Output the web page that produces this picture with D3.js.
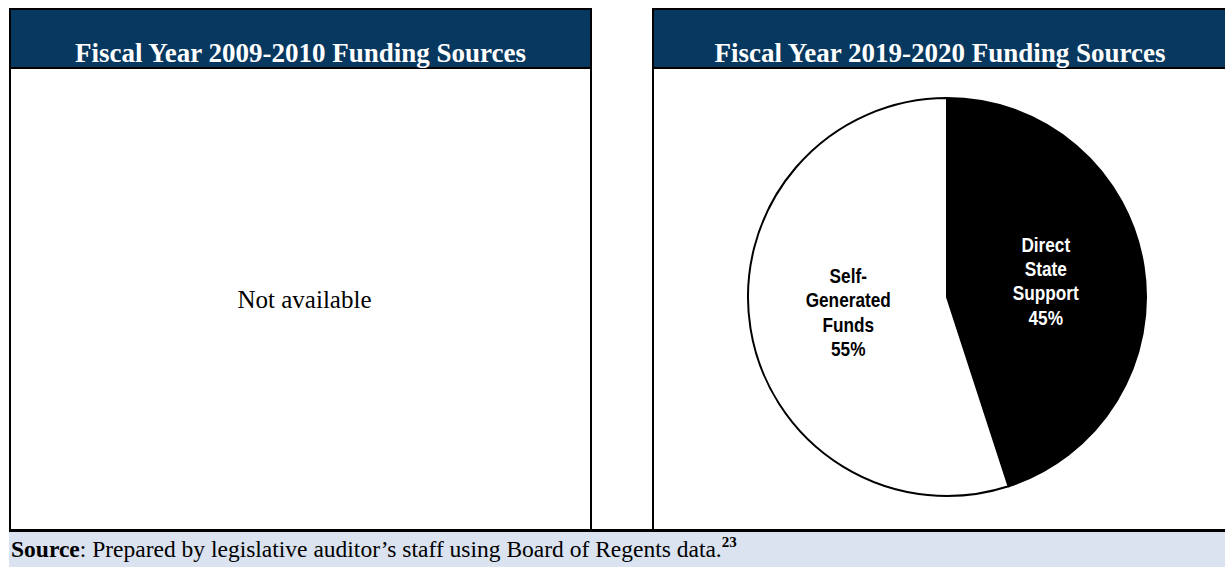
<!DOCTYPE html>
<html>
<head>
<meta charset="utf-8">
<script src="https://cdn.jsdelivr.net/npm/d3@7"></script>
<style>
  body { margin: 0; background: #fff; }
  svg { display: block; }
</style>
</head>
<body>
<svg width="1225" height="567"></svg>
<script>
const panelTitles = ["Fiscal Year 2009-2010 Funding Sources", "Fiscal Year 2019-2020 Funding Sources"];
const categories = ["Direct State Support", "Self-Generated Funds"];
const labelLines = [["Direct", "State", "Support"], ["Self-", "Generated", "Funds"]];
const shares = [45, 55];
const sliceColors = ["#000000", "#ffffff"];
const noData = "Not available";
const sourceNote = ": Prepared by legislative auditor\u2019s staff using Board of Regents data.";
const footnote = "23";

const svg = d3.select("svg"),
      width = +svg.attr("width"),
      height = +svg.attr("height");

const navy = "#07385f";
const boxTop = 9, headBottom = 68, boxBottom = 530.5;
const panels = [{ x0: 10, x1: 591 }, { x0: 653, x1: 1228 }];

// footer band
svg.append("rect")
    .attr("x", 9).attr("y", boxBottom)
    .attr("width", width).attr("height", height - boxBottom)
    .attr("fill", "#dae3ef");

panels.forEach((p, i) => {
    svg.append("rect")
        .attr("x", p.x0).attr("y", boxTop)
        .attr("width", p.x1 - p.x0).attr("height", headBottom - boxTop)
        .attr("fill", navy);
    svg.append("rect")
        .attr("x", p.x0).attr("y", boxTop)
        .attr("width", p.x1 - p.x0).attr("height", boxBottom - boxTop)
        .attr("fill", "none")
        .attr("stroke", "#000")
        .attr("stroke-width", 2);
    svg.append("line")
        .attr("x1", p.x0).attr("x2", p.x1)
        .attr("y1", headBottom).attr("y2", headBottom)
        .attr("stroke", "#000").attr("stroke-width", 2);
    svg.append("text")
        .attr("x", (p.x0 + Math.min(p.x1, 1227)) / 2)
        .attr("y", 62)
        .attr("text-anchor", "middle")
        .attr("font-family", "'Liberation Serif', 'Times New Roman', serif")
        .attr("font-weight", "bold")
        .attr("font-size", 27)
        .attr("fill", "#fff")
        .text(panelTitles[i]);
});

// bottom rule across
svg.append("line")
    .attr("x1", 9).attr("x2", width)
    .attr("y1", boxBottom).attr("y2", boxBottom)
    .attr("stroke", "#000").attr("stroke-width", 3);

// left panel: no data
svg.append("text")
    .attr("x", (panels[0].x0 + panels[0].x1) / 2 + 4)
    .attr("y", 308)
    .attr("text-anchor", "middle")
    .attr("font-family", "'Liberation Serif', 'Times New Roman', serif")
    .attr("font-size", 25)
    .text(noData);

// right panel: pie
const cx = 947, cy = 297, r = 199;
const pie = d3.pie().sort(null).value(d => d);
const arc = d3.arc().innerRadius(0).outerRadius(r);
const labelArc = d3.arc().innerRadius(100).outerRadius(100);
const arcs = pie(shares);

const g = svg.append("g").attr("transform", `translate(${cx},${cy})`);

g.selectAll(".slice")
    .data(arcs)
    .join("path")
    .classed("slice", true)
    .attr("d", arc)
    .attr("fill", (d, i) => sliceColors[i])
    .attr("stroke", "#000")
    .attr("stroke-width", 2);

const lineH = 24.3;
g.selectAll(".label")
    .data(arcs)
    .join("g")
    .classed("label", true)
    .attr("transform", d => {
        const [x, y] = labelArc.centroid(d);
        return `translate(${x},${y}) scale(0.84,1)`;
    })
    .each(function(d, i) {
        const lines = labelLines[i].concat([d.data + "%"]);
        const t = d3.select(this).append("text")
            .attr("text-anchor", "middle")
            .attr("font-family", "'Liberation Sans', Arial, sans-serif")
            .attr("font-weight", "bold")
            .attr("font-size", 20.5)
            .attr("fill", i === 0 ? "#fff" : "#000");
        lines.forEach((s, k) => {
            t.append("tspan")
                .attr("x", 0)
                .attr("y", (k - (lines.length - 1) / 2) * lineH + 7)
                .text(s);
        });
    });

// source line
const src = svg.append("text")
    .attr("x", 11)
    .attr("y", 557)
    .attr("font-family", "'Liberation Serif', 'Times New Roman', serif")
    .attr("font-size", 23.5);
src.append("tspan").attr("font-weight", "bold").text("Source");
src.append("tspan").text(sourceNote);
src.append("tspan")
    .attr("font-weight", "bold")
    .attr("font-size", 15)
    .attr("dy", -10)
    .text(footnote);
</script>
</body>
</html>
